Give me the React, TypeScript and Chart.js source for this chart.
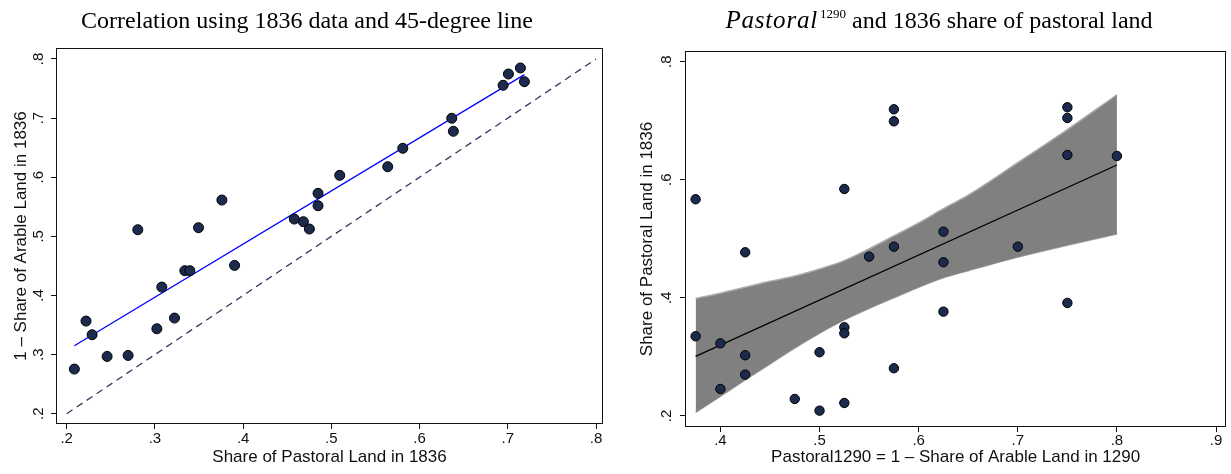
import React, { useEffect, useRef } from 'react';
import { Chart, registerables } from 'chart.js';

Chart.register(...registerables);

// ---------- Left panel data ----------
const leftTitle = 'Correlation using 1836 data and 45-degree line';
const leftXLabel = 'Share of Pastoral Land in 1836';
const leftYLabel = '1 – Share of Arable Land in 1836';
const pastoralShare1836 = [
  0.2087, 0.2219, 0.2288, 0.2458, 0.2696, 0.2806, 0.3022, 0.3078, 0.3222, 0.3339,
  0.3396, 0.3494, 0.3759, 0.3903, 0.458, 0.4683, 0.4751, 0.4849, 0.4849, 0.5095,
  0.5639, 0.581, 0.6365, 0.6383, 0.6947, 0.7007, 0.7143, 0.7188,
];
const oneMinusArable1836 = [
  0.2755, 0.3567, 0.3336, 0.2969, 0.2986, 0.5112, 0.3437, 0.4142, 0.3618, 0.4419,
  0.4419, 0.5146, 0.5614, 0.4509, 0.5293, 0.5248, 0.5124, 0.5727, 0.5518, 0.6032,
  0.6178, 0.6489, 0.6997, 0.6777, 0.7555, 0.7746, 0.7848, 0.7616,
];
const leftFitX = [0.2087, 0.7188];
const leftFitY = [0.315, 0.7735];
const diagonalX = [0.2, 0.8];
const diagonalY = [0.2, 0.8];
const leftXTicks = [0.2, 0.3, 0.4, 0.5, 0.6, 0.7, 0.8];
const leftXTickLabels = ['.2', '.3', '.4', '.5', '.6', '.7', '.8'];
const leftYTicks = [0.2, 0.3, 0.4, 0.5, 0.6, 0.7, 0.8];
const leftYTickLabels = ['.2', '.3', '.4', '.5', '.6', '.7', '.8'];

// ---------- Right panel data ----------
const rightXLabel = 'Pastoral1290 = 1 – Share of Arable Land in 1290';
const rightYLabel = 'Share of Pastoral Land in 1836';
const pastoral1290 = [
  0.375, 0.375, 0.4, 0.4, 0.425, 0.425, 0.425, 0.475, 0.5, 0.5,
  0.525, 0.525, 0.525, 0.525, 0.55, 0.575, 0.575, 0.575, 0.575, 0.625,
  0.625, 0.625, 0.7, 0.75, 0.75, 0.75, 0.75, 0.8,
];
const pastoral1836 = [
  0.567, 0.335, 0.323, 0.2457, 0.4772, 0.3028, 0.27, 0.2288, 0.3079, 0.209,
  0.5844, 0.3502, 0.34, 0.222, 0.4698, 0.7194, 0.699, 0.4867, 0.2808, 0.5121,
  0.4603, 0.3767, 0.4867, 0.7228, 0.7047, 0.642, 0.3914, 0.6403,
];
const rightFitX = [0.375, 0.8];
const rightFitY = [0.301, 0.625];
const bandX = [0.375, 0.4, 0.425, 0.45, 0.475, 0.5, 0.525, 0.55, 0.575, 0.6, 0.625, 0.65, 0.7, 0.75, 0.8];
const bandUpper = [0.399, 0.408, 0.418, 0.428, 0.437, 0.449, 0.463, 0.483, 0.505, 0.527, 0.551, 0.574, 0.629, 0.685, 0.744];
const bandLower = [0.206, 0.233, 0.261, 0.288, 0.315, 0.34, 0.3626, 0.382, 0.4, 0.418, 0.434, 0.446, 0.469, 0.489, 0.508];
const rightXTicks = [0.4, 0.5, 0.6, 0.7, 0.8, 0.9];
const rightXTickLabels = ['.4', '.5', '.6', '.7', '.8', '.9'];
const rightYTicks = [0.2, 0.4, 0.6, 0.8];
const rightYTickLabels = ['.2', '.4', '.6', '.8'];

const SANS = '"Liberation Sans", Arial, Helvetica, sans-serif';
const SERIF = '"Liberation Serif", "Times New Roman", serif';
const DOT_FILL = '#1c2a4e';

const pts = (xs: number[], ys: number[]) => xs.map((x, i) => ({ x, y: ys[i] }));

function boxPlugin(id: string) {
  return {
    id,
    afterDraw(chart: any) {
      const { ctx, chartArea: a } = chart;
      ctx.save();
      ctx.strokeStyle = '#111';
      ctx.lineWidth = 1;
      ctx.strokeRect(Math.round(a.left) - 0.5, Math.round(a.top) - 0.5, Math.round(a.right - a.left) + 1, Math.round(a.bottom - a.top) + 1);
      ctx.restore();
    },
  };
}

function axisOptions(p: {
  min: number; max: number; ticks: number[]; labels: string[]; title: string;
  axis: 'x' | 'y'; size: number; tickPadding: number; titlePad: any;
}) {
  const base: any = {
    type: 'linear',
    min: p.min,
    max: p.max,
    afterBuildTicks: (scale: any) => {
      scale.ticks = p.ticks.map((v) => ({ value: v }));
    },
    afterFit: (scale: any) => {
      if (p.axis === 'x') scale.height = p.size;
      else scale.width = p.size;
    },
    grid: {
      display: true,
      drawOnChartArea: false,
      drawTicks: true,
      tickLength: 6,
      tickColor: '#111',
      lineWidth: 1,
    },
    border: { display: false },
    ticks: {
      autoSkip: false,
      color: '#111',
      font: { family: SANS, size: 15 },
      padding: p.tickPadding,
      callback: (_v: any, i: number) => p.labels[i],
    },
    title: {
      display: true,
      text: p.title,
      color: '#111',
      font: { family: SANS, size: 17 },
      padding: p.titlePad,
    },
  };
  if (p.axis === 'y') {
    base.ticks.minRotation = 90;
    base.ticks.maxRotation = 90;
    base.ticks.crossAlign = 'center';
  } else {
    base.ticks.maxRotation = 0;
    base.ticks.minRotation = 0;
  }
  return base;
}

function LeftChart() {
  const ref = useRef<HTMLCanvasElement>(null);
  useEffect(() => {
    if (!ref.current) return;
    const titlePlugin = {
      id: 'leftTitle',
      afterDraw(chart: any) {
        const ctx = chart.ctx;
        ctx.save();
        ctx.fillStyle = '#000';
        ctx.font = `24px ${SERIF}`;
        ctx.textAlign = 'center';
        ctx.textBaseline = 'alphabetic';
        ctx.fillText(leftTitle, 307, 28);
        ctx.restore();
      },
    };
    const chart = new Chart(ref.current, {
      type: 'scatter',
      data: {
        datasets: [
          {
            data: pts(pastoralShare1836, oneMinusArable1836),
            pointRadius: 5,
            pointBackgroundColor: DOT_FILL,
            pointBorderColor: '#000',
            pointBorderWidth: 1,
            showLine: false,
          },
          {
            data: pts(leftFitX, leftFitY),
            showLine: true,
            borderColor: '#0000ff',
            borderWidth: 1.3,
            pointRadius: 0,
            fill: false,
          },
          {
            data: pts(diagonalX, diagonalY),
            showLine: true,
            borderColor: '#2e3a5e',
            borderWidth: 1.3,
            borderDash: [7, 5],
            pointRadius: 0,
            fill: false,
          },
        ],
      } as any,
      options: {
        responsive: false,
        maintainAspectRatio: false,
        animation: false,
        layout: { padding: { top: 49, right: 13, bottom: 0, left: 0 } },
        plugins: { legend: { display: false }, tooltip: { enabled: false }, title: { display: false } },
        scales: {
          x: axisOptions({ min: 0.189, max: 0.8068, ticks: leftXTicks, labels: leftXTickLabels, title: leftXLabel, axis: 'x', size: 51, tickPadding: 1, titlePad: { top: 0, bottom: 6 } }),
          y: axisOptions({ min: 0.1843, max: 0.8169, ticks: leftYTicks, labels: leftYTickLabels, title: leftYLabel, axis: 'y', size: 57, tickPadding: 6, titlePad: { top: 11, bottom: 0 } }),
        },
      } as any,
      plugins: [boxPlugin('leftBox'), titlePlugin],
    });
    return () => chart.destroy();
  }, []);
  return <canvas ref={ref} width={615} height={474} style={{ position: 'absolute', left: 0, top: 0 }} />;
}

function RightChart() {
  const ref = useRef<HTMLCanvasElement>(null);
  useEffect(() => {
    if (!ref.current) return;
    const titlePlugin = {
      id: 'rightTitle',
      afterDraw(chart: any) {
        const ctx = chart.ctx;
        ctx.save();
        ctx.fillStyle = '#000';
        ctx.textAlign = 'left';
        ctx.textBaseline = 'alphabetic';
        const f1 = `italic 25px ${SERIF}`;
        const f2 = `13px ${SERIF}`;
        const f3 = `24px ${SERIF}`;
        const t1 = 'Pastoral';
        const t2 = '1290';
        const t3 = ' and 1836 share of pastoral land';
        const sp = '0.8px';
        ctx.font = f1;
        (ctx as any).letterSpacing = sp;
        const w1 = ctx.measureText(t1).width;
        (ctx as any).letterSpacing = '0px';
        ctx.font = f2;
        const w2 = ctx.measureText(t2).width;
        ctx.font = f3;
        const w3 = ctx.measureText(t3).width;
        const total = w1 + 2 + w2 + w3;
        let x = 324 - total / 2;
        ctx.font = f1;
        (ctx as any).letterSpacing = sp;
        ctx.fillText(t1, x, 28);
        (ctx as any).letterSpacing = '0px';
        x += w1 + 2;
        ctx.font = f2;
        ctx.fillText(t2, x, 18);
        x += w2;
        ctx.font = f3;
        ctx.fillText(t3, x, 28);
        ctx.restore();
      },
    };
    const chart = new Chart(ref.current, {
      type: 'scatter',
      data: {
        datasets: [
          {
            data: pts(pastoral1290, pastoral1836),
            pointRadius: 4.7,
            pointBackgroundColor: DOT_FILL,
            pointBorderColor: '#000',
            pointBorderWidth: 1,
            showLine: false,
          },
          {
            data: pts(rightFitX, rightFitY),
            showLine: true,
            borderColor: '#000',
            borderWidth: 1.3,
            pointRadius: 0,
            fill: false,
          },
          {
            data: pts(bandX, bandUpper),
            showLine: true,
            borderColor: 'rgba(170,170,170,1)',
            borderWidth: 1.5,
            backgroundColor: '#808080',
            pointRadius: 0,
            cubicInterpolationMode: 'monotone',
            fill: '+1',
          },
          {
            data: pts(bandX, bandLower),
            showLine: true,
            borderColor: 'rgba(170,170,170,1)',
            borderWidth: 1.5,
            pointRadius: 0,
            cubicInterpolationMode: 'monotone',
            fill: false,
          },
        ],
      } as any,
      options: {
        responsive: false,
        maintainAspectRatio: false,
        animation: false,
        layout: { padding: { top: 52, right: 1, bottom: 0, left: 0 } },
        plugins: { legend: { display: false }, tooltip: { enabled: false }, title: { display: false } },
        scales: {
          x: axisOptions({ min: 0.3653, max: 0.9093, ticks: rightXTicks, labels: rightXTickLabels, title: rightXLabel, axis: 'x', size: 48, tickPadding: 0, titlePad: { top: 0, bottom: 6 } }),
          y: axisOptions({ min: 0.183, max: 0.8164, ticks: rightYTicks, labels: rightYTickLabels, title: rightYLabel, axis: 'y', size: 71, tickPadding: 7, titlePad: { top: 22, bottom: 0 } }),
        },
      } as any,
      plugins: [boxPlugin('rightBox'), titlePlugin],
    });
    return () => chart.destroy();
  }, []);
  return <canvas ref={ref} width={616} height={474} style={{ position: 'absolute', left: 615, top: 0 }} />;
}

export default function App() {
  return (
    <div style={{ position: 'fixed', left: 0, top: 0, width: 1231, height: 474, background: '#fff', overflow: 'hidden' }}>
      <LeftChart />
      <RightChart />
    </div>
  );
}
